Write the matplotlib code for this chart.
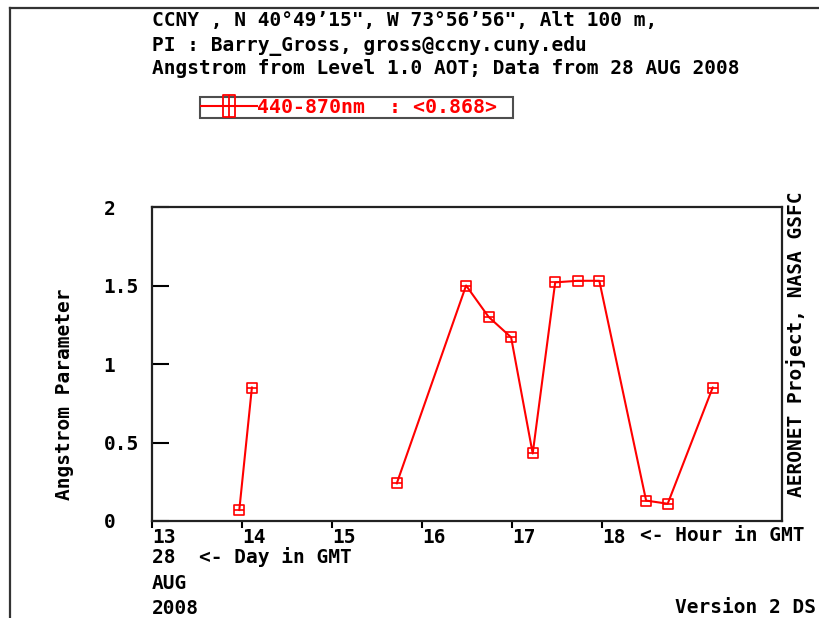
import numpy as np
import matplotlib
matplotlib.use('Agg')
import matplotlib.pyplot as plt
from matplotlib.lines import Line2D
from matplotlib.path import Path

# data (hour in GMT, Angstrom 440-870nm), nan = gap in the record
hours = [13.97, 14.11, np.nan, 15.72, 16.49, 16.74, 16.99, 17.23, 17.48, 17.73, 17.97, 18.49, 18.73, 19.23]
angstrom = [0.07, 0.85, np.nan, 0.24, 1.50, 1.30, 1.17, 0.43, 1.52, 1.53, 1.53, 0.13, 0.11, 0.85]
xticks = [13, 14, 15, 16, 17, 18]
yticks = [0, 0.5, 1, 1.5, 2]
ytick_labels = ['0', '0.5', '1', '1.5', '2']
header = ['CCNY , N 40°49’15", W 73°56’56", Alt 100 m,',
          'PI : Barry_Gross, gross@ccny.cuny.edu',
          'Angstrom from Level 1.0 AOT; Data from 28 AUG 2008']
legend_label = '440-870nm  : <0.868>'

plt.rcParams['font.family'] = ['DejaVu Sans Mono']
plt.rcParams['font.weight'] = 'bold'
FS = 14

W, H = 819, 618
fig = plt.figure(figsize=(W / 100, H / 100), dpi=100)

def fx(px):
    return px / W

def fy(py):
    return 1 - py / H

ax = fig.add_axes([fx(152), fy(521), fx(782) - fx(152), fy(207) - fy(521)])

# markers: square with a bar through the middle
data_marker = Path([(-1, -1), (1, -1), (1, 1), (-1, 1), (-1, -1), (-1, 0), (1, 0)],
                   [Path.MOVETO, Path.LINETO, Path.LINETO, Path.LINETO, Path.CLOSEPOLY,
                    Path.MOVETO, Path.LINETO])
legend_marker = Path([(-0.55, -1), (0.55, -1), (0.55, 1), (-0.55, 1), (-0.55, -1), (0, -1), (0, 1)],
                     [Path.MOVETO, Path.LINETO, Path.LINETO, Path.LINETO, Path.CLOSEPOLY,
                      Path.MOVETO, Path.LINETO])

ax.plot(hours, angstrom, color='red', lw=1.5, marker=data_marker, ms=6.5,
        mfc='none', mec='red', mew=1.2)

ax.set_xlim(13, 20)
ax.set_ylim(0, 2)
for s in ax.spines.values():
    s.set_linewidth(1.6)
    s.set_color('#222222')

ax.set_xticks(xticks)
ax.set_xticklabels([str(t) for t in xticks], fontsize=FS)
for lab in ax.get_xticklabels():
    lab.set_ha('left')
ax.tick_params(axis='x', direction='out', length=5, width=1.5, pad=0)

ax.set_yticks(yticks)
ax.set_yticklabels(ytick_labels, fontsize=FS)
for lab in ax.get_yticklabels():
    lab.set_ha('left')
ax.tick_params(axis='y', direction='in', length=12, width=1.5, pad=35)

# legend
handle = Line2D([], [], color='red', lw=1.5, marker=legend_marker, ms=16,
                mfc='none', mec='red', mew=1.3)
leg = ax.legend([handle], [legend_label], loc='upper left',
                bbox_to_anchor=(fx(200), fy(118), fx(513) - fx(200), fy(97) - fy(118)),
                bbox_transform=fig.transFigure, mode='expand',
                frameon=True, fancybox=False, edgecolor='#222222', borderpad=0.05,
                borderaxespad=0, handlelength=2.8, handletextpad=0,
                labelcolor='red', prop={'family': 'DejaVu Sans Mono', 'weight': 'bold', 'size': 14.3})
leg.get_frame().set_linewidth(1.5)

# header text
for txt, base in zip(header, [26, 51, 74]):
    fig.text(fx(152), fy(base), txt, fontsize=FS, va='baseline', ha='left')

fig.text(fx(64), fy(394), 'Angstrom Parameter', rotation=90, fontsize=FS,
         ha='center', va='center')
fig.text(fx(796), fy(344), 'AERONET Project, NASA GSFC', rotation=90, fontsize=FS,
         ha='center', va='center')
fig.text(fx(640), fy(541), '<- Hour in GMT', fontsize=FS, va='baseline', ha='left')
fig.text(fx(152), fy(563), '28  <- Day in GMT', fontsize=FS, va='baseline', ha='left')
fig.text(fx(152), fy(589), 'AUG', fontsize=FS, va='baseline', ha='left')
fig.text(fx(152), fy(614), '2008', fontsize=FS, va='baseline', ha='left')
fig.text(fx(816), fy(613), 'Version 2 DS', fontsize=FS, va='baseline', ha='right')

# outer frame (top and left)
fig.add_artist(Line2D([fx(10), 1], [fy(8), fy(8)], color='#333333', lw=1.6,
                      transform=fig.transFigure))
fig.add_artist(Line2D([fx(10), fx(10)], [fy(8), 0], color='#333333', lw=1.6,
                      transform=fig.transFigure))

fig.savefig('out.png', dpi=100)
